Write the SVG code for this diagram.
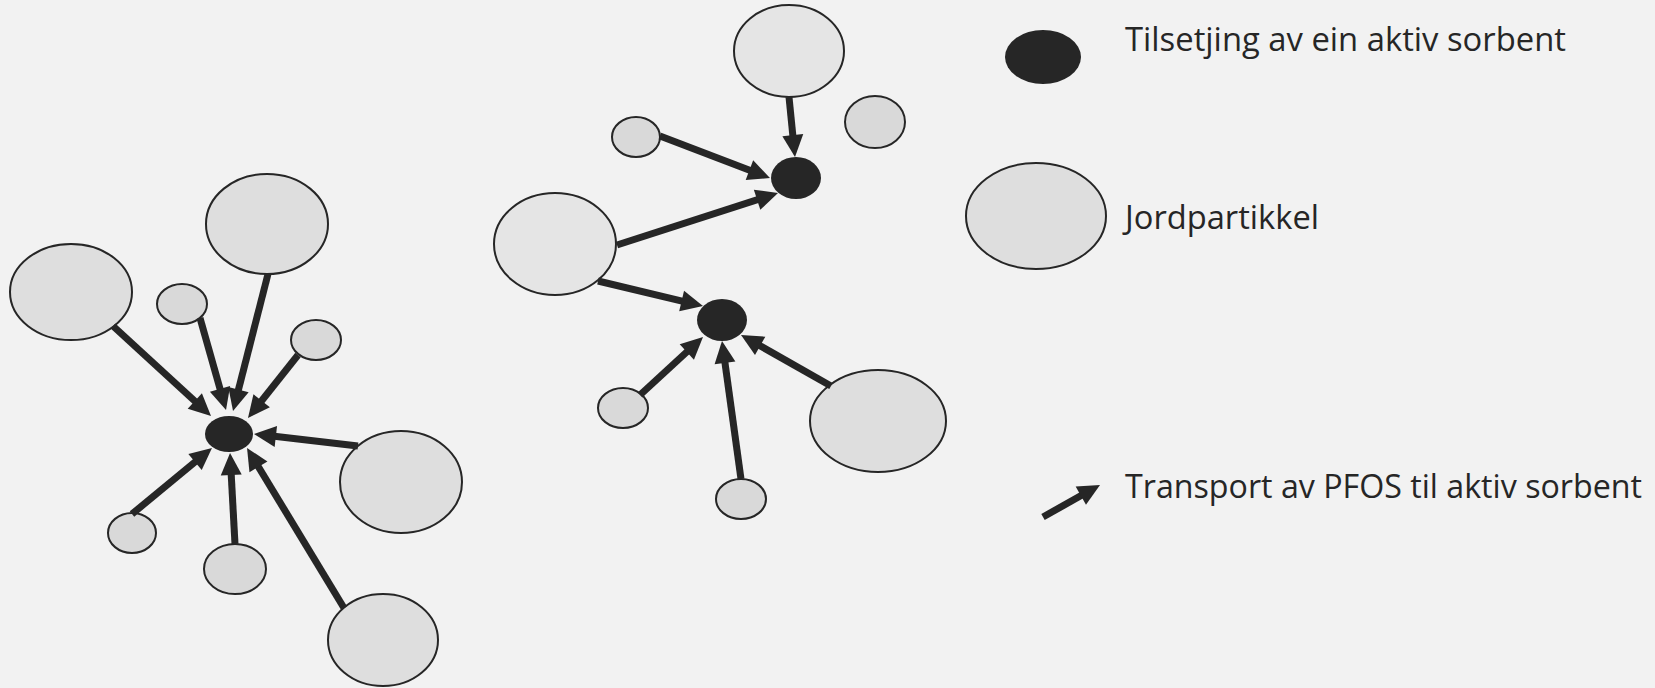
<svg xmlns="http://www.w3.org/2000/svg" width="1655" height="688" viewBox="0 0 1655 688">
<style>
.p{stroke:#262626;stroke-width:2}
.big{fill:#dedede}
.lt{fill:#e5e5e5}
.sm{fill:#d9d9d9}
.s{fill:#262626}
.c line{stroke:#262626;stroke-width:7;marker-end:url(#ah)}
text{font-family:"Open Sans","Noto Sans","Liberation Sans",sans-serif;font-size:33px;fill:#262626}
</style>
<defs>
<marker id="ah" markerUnits="userSpaceOnUse" markerWidth="22" markerHeight="21" refX="8" refY="10.5" orient="auto" overflow="visible">
<path d="M0,0 L22,10.5 L0,21 z" fill="#262626"/>
</marker>
</defs>
<rect width="1655" height="688" fill="#f2f2f2"/>

<g id="left-cluster">
<g id="n-l1"><ellipse class="p big" cx="71" cy="292" rx="61" ry="48"/></g>
<g id="n-l2"><ellipse class="p big" cx="267" cy="224" rx="61" ry="50"/></g>
<g id="n-l3"><ellipse class="p sm" cx="182" cy="304" rx="25" ry="20"/></g>
<g id="n-l4"><ellipse class="p sm" cx="316" cy="340" rx="25" ry="20"/></g>
<g id="n-l5"><ellipse class="p big" cx="401" cy="482" rx="61" ry="51"/></g>
<g id="n-l6"><ellipse class="p sm" cx="132" cy="533" rx="24" ry="20"/></g>
<g id="n-l7"><ellipse class="p sm" cx="235" cy="569" rx="31" ry="25"/></g>
<g id="n-l8"><ellipse class="p big" cx="383" cy="640" rx="55" ry="46"/></g>
<g id="n-ls"><ellipse class="s" cx="229" cy="434" rx="24" ry="18"/></g>
</g>

<g id="middle-cluster">
<g id="n-m1"><ellipse class="p lt" cx="789" cy="51" rx="55" ry="46"/></g>
<g id="n-m2"><ellipse class="p sm" cx="875" cy="122" rx="30" ry="26"/></g>
<g id="n-m3"><ellipse class="p sm" cx="636" cy="137" rx="24" ry="20"/></g>
<g id="n-m4"><ellipse class="p lt" cx="555" cy="244" rx="61" ry="51"/></g>
<g id="n-m5"><ellipse class="p sm" cx="623" cy="408" rx="25" ry="20"/></g>
<g id="n-m6"><ellipse class="p sm" cx="741" cy="499" rx="25" ry="20"/></g>
<g id="n-m7"><ellipse class="p big" cx="878" cy="421" rx="68" ry="51"/></g>
<g id="n-ms1"><ellipse class="s" cx="796" cy="178" rx="25" ry="21"/></g>
<g id="n-ms2"><ellipse class="s" cx="722" cy="320" rx="25" ry="21"/></g>
</g>

<g id="connectors" class="c">
<line x1="113" y1="326" x2="200.7" y2="406.5"/>
<line x1="200" y1="318" x2="222.2" y2="396.5"/>
<line x1="268" y1="274" x2="236.5" y2="397.4"/>
<line x1="298" y1="355" x2="256.7" y2="407"/>
<line x1="358" y1="446" x2="267.9" y2="435.6"/>
<line x1="132" y1="514" x2="201.2" y2="456.9"/>
<line x1="235" y1="544" x2="230.8" y2="467"/>
<line x1="344" y1="608" x2="254.3" y2="460"/>
<line x1="789" y1="97" x2="793.6" y2="143.1"/>
<line x1="660" y1="136" x2="756.9" y2="173"/>
<line x1="617" y1="245" x2="764.7" y2="197.3"/>
<line x1="598" y1="281" x2="689.4" y2="302.8"/>
<line x1="640" y1="395" x2="692.7" y2="346.5"/>
<line x1="741" y1="479" x2="723.9" y2="354.9"/>
<line x1="831" y1="386" x2="753.2" y2="341.9"/>
</g>

<g id="legend">
<g id="lg-sorbent">
<ellipse class="s" cx="1043" cy="57" rx="38" ry="27"/>
<text x="1125" y="51" textLength="441" lengthAdjust="spacingAndGlyphs">Tilsetjing av ein aktiv sorbent</text>
</g>
<g id="lg-particle">
<ellipse class="p big" cx="1036" cy="216" rx="70" ry="53"/>
<text x="1125" y="229" textLength="194" lengthAdjust="spacingAndGlyphs">Jordpartikkel</text>
</g>
<g id="lg-transport">
<g class="c"><line x1="1043" y1="517" x2="1087.8" y2="491.8"/></g>
<text x="1125" y="498" textLength="517" lengthAdjust="spacingAndGlyphs">Transport av PFOS til aktiv sorbent</text>
</g>
</g>
</svg>
